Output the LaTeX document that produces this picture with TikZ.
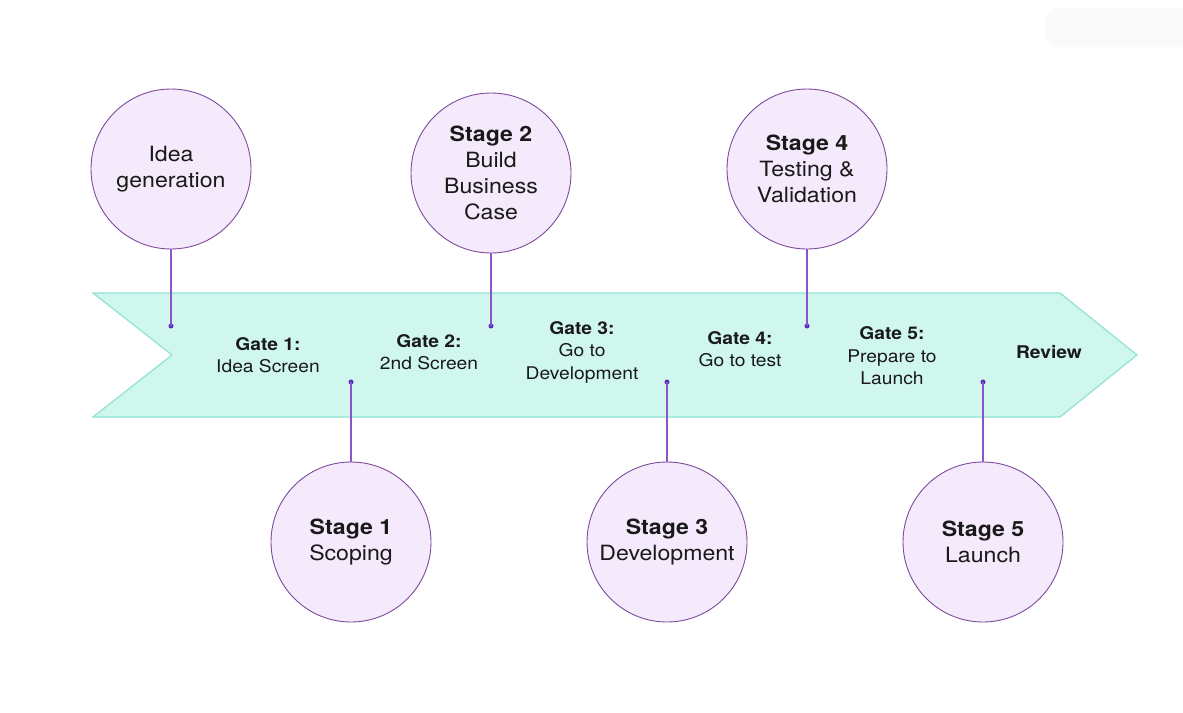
\documentclass[tikz,border=0pt]{standalone}
\usepackage{fontspec}
\setmainfont{TeX Gyre Heros}[FakeStretch=1.1]
\definecolor{mint}{HTML}{CFF7EE}
\definecolor{mintline}{HTML}{8FE3D2}
\definecolor{lav}{HTML}{F4EAFB}
\definecolor{lavline}{HTML}{7E4A9E}
\definecolor{conn}{HTML}{8A55C6}
\definecolor{dotc}{HTML}{5A2EC2}
\definecolor{faint}{HTML}{FAFAFA}
\begin{document}
\begin{tikzpicture}[x=1pt,y=-1pt,
  stagec/.style={circle,draw=lavline,line width=0.9pt,fill=lav,minimum size=160pt,inner sep=0pt,align=center,font=\fontsize{21}{26}\selectfont,text=black!90},
  dotn/.style={circle,fill=dotc,minimum size=5pt,inner sep=0pt},
  connl/.style={draw=conn,line width=1.1pt},
  gate/.style={align=center,font=\fontsize{17.5}{22.5}\selectfont,text=black!90}]
\useasboundingbox (0,0) rectangle (1183,712);
\fill[white] (0,0) rectangle (1183,712);
\fill[faint,rounded corners=14pt] (1045,8) rectangle (1200,47);
% arrow band
\path[fill=mint,draw=mintline,line width=1.2pt,line join=miter]
  (93,293) -- (1060,293) -- (1137,355) -- (1060,417) -- (93,417) -- (172,355) -- cycle;
% circles
\node[stagec] (c0) at (171,169) {Idea\\generation};
\node[stagec] (c2) at (491,173) {\textbf{Stage 2}\\Build\\Business\\Case};
\node[stagec] (c4) at (807,169) {\textbf{Stage 4}\\Testing \&\\Validation};
\node[stagec] (c1) at (351,542) {\textbf{Stage 1}\\Scoping};
\node[stagec] (c3) at (667,542) {\textbf{Stage 3}\\Development};
\node[stagec] (c5) at (983,542) {\textbf{Stage 5}\\Launch};
% dots
\node[dotn] (d0) at (171,326) {};
\node[dotn] (d2) at (491,326) {};
\node[dotn] (d4) at (807,326) {};
\node[dotn] (d1) at (351,382) {};
\node[dotn] (d3) at (667,382) {};
\node[dotn] (d5) at (983,382) {};
\draw[connl] (c0.south) -- (d0.center);
\draw[connl] (c2.south) -- (d2.center);
\draw[connl] (c4.south) -- (d4.center);
\draw[connl] (c1.north) -- (d1.center);
\draw[connl] (c3.north) -- (d3.center);
\draw[connl] (c5.north) -- (d5.center);
% gate labels
\node[gate] (g1) at (268,355) {\textbf{Gate 1:}\\Idea Screen};
\node[gate] (g2) at (429,352) {\textbf{Gate 2:}\\2nd Screen};
\node[gate] (g3) at (582,352) {\textbf{Gate 3:}\\Go to\\Development};
\node[gate] (g4) at (740,349) {\textbf{Gate 4:}\\Go to test};
\node[gate] (g5) at (892,356) {\textbf{Gate 5:}\\Prepare to\\Launch};
\node[gate] (rv) at (1049,352) {\textbf{Review}};
\end{tikzpicture}
\end{document}
